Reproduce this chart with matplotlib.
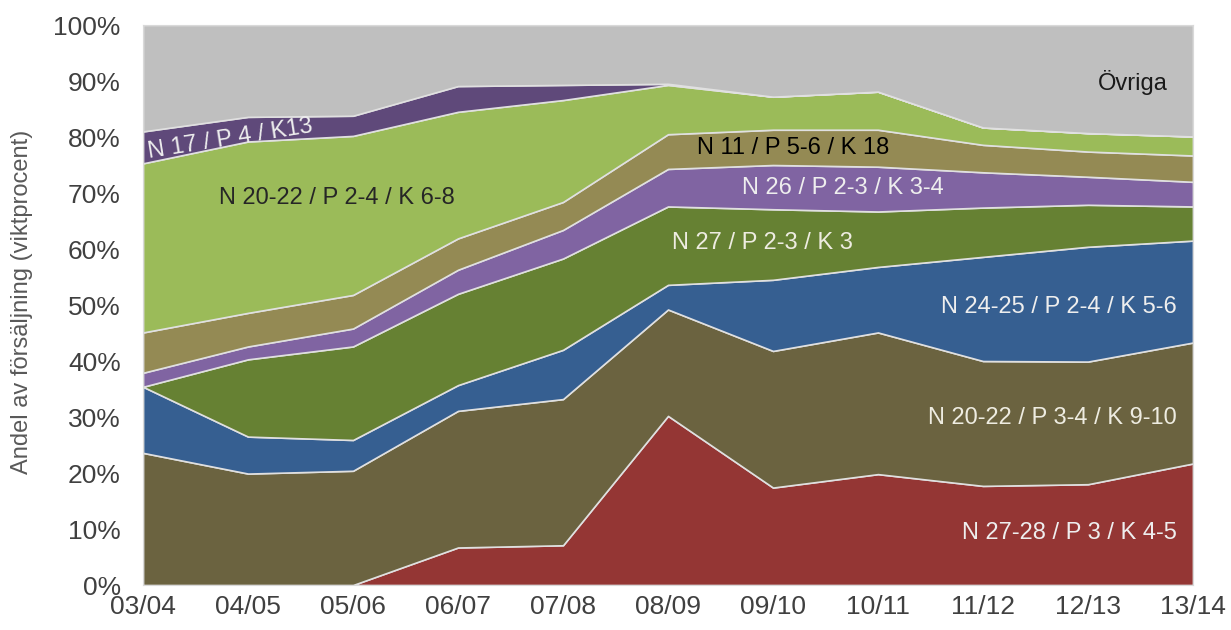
import matplotlib.pyplot as plt
import numpy as np

plt.rcParams['font.family'] = ['Liberation Sans', 'DejaVu Sans']

# Säsonger
seasons = ["03/04", "04/05", "05/06", "06/07", "07/08", "08/09",
           "09/10", "10/11", "11/12", "12/13", "13/14"]

# Andel av försäljning (viktprocent), nerifrån och upp
n27_28 = [0, 0, 0, 6.7, 7.1, 30.2, 17.4, 19.8, 17.7, 18.0, 21.7]
n20_22_p34 = [23.6, 19.9, 20.4, 24.4, 26.1, 19.0, 24.4, 25.3, 22.3, 21.9, 21.6]
n24_25 = [11.8, 6.6, 5.5, 4.6, 8.8, 4.4, 12.7, 11.7, 18.6, 20.5, 18.2]
n27 = [0, 13.8, 16.7, 16.3, 16.3, 14.0, 12.6, 9.9, 8.8, 7.5, 6.1]
n26 = [2.5, 2.3, 3.2, 4.3, 5.1, 6.7, 7.9, 8.0, 6.3, 5.0, 4.4]
n11 = [7.2, 6.0, 6.0, 5.6, 5.0, 6.2, 6.3, 6.6, 4.9, 4.5, 4.7]
n20_22_p24 = [30.2, 30.6, 28.4, 22.6, 18.2, 8.8, 5.9, 6.8, 3.1, 3.3, 3.4]
n17 = [5.7, 4.4, 3.6, 4.6, 2.7, 0.2, 0, 0, 0, 0, 0]
ovriga = [19.0, 16.4, 16.2, 10.9, 10.7, 10.5, 12.8, 11.9, 18.3, 19.3, 19.9]

series = [n27_28, n20_22_p34, n24_25, n27, n26, n11, n20_22_p24, n17, ovriga]
colors = ["#943634", "#6B6340", "#365F91", "#668133", "#8064A2",
          "#948A54", "#9BBB59", "#5F497A", "#BFBFBF"]

x = np.arange(len(seasons))

fig = plt.figure(figsize=(12.31, 6.30), dpi=100)
ax = fig.add_axes([0.1162, 0.0714, 0.8529, 0.8889])

ax.stackplot(x, *series, colors=colors, edgecolor="#E0E0E0", linewidth=1.2)

ax.set_xlim(0, len(seasons) - 1)
ax.set_ylim(0, 100)
ax.set_xticks(x)
ax.set_xticklabels(seasons)
ax.set_yticks(np.arange(0, 101, 10))
ax.set_yticklabels([f"{v}%" for v in range(0, 101, 10)])
ax.tick_params(length=0, labelsize=19, colors="#404040")
ax.tick_params(axis="y", pad=16)
ax.tick_params(axis="x", pad=7)
for sp in ax.spines.values():
    sp.set_color("#D9D9D9")
fig.text(22 / 1231, 1 - 302 / 630, "Andel av försäljning (viktprocent)",
         fontsize=17, color="#595959", rotation=90, ha="center", va="center")

# Etiketter i ytorna
light = "#EEEEEE"
fs = 17
ax.text(0.83, 79.6, "N 17 / P 4 / K13", color=light, fontsize=fs,
        rotation=9, ha="center", va="center")
ax.text(1.85, 69.1, "N 20-22 / P 2-4 / K 6-8", color="#262626", fontsize=fs,
        ha="center", va="center")
ax.text(6.19, 78.0, "N 11 / P 5-6 / K 18", color="#000000", fontsize=fs,
        ha="center", va="center")
ax.text(6.67, 70.9, "N 26 / P 2-3 / K 3-4", color=light, fontsize=fs,
        ha="center", va="center")
ax.text(5.9, 61.0, "N 27 / P 2-3 / K 3", color="#EEECE1", fontsize=fs,
        ha="center", va="center")
ax.text(9.85, 49.6, "N 24-25 / P 2-4 / K 5-6", color=light, fontsize=fs,
        ha="right", va="center")
ax.text(9.85, 29.8, "N 20-22 / P 3-4 / K 9-10", color="#EEECE1", fontsize=fs,
        ha="right", va="center")
ax.text(9.85, 9.3, "N 27-28 / P 3 / K 4-5", color=light, fontsize=fs,
        ha="right", va="center")
ax.text(9.43, 89.8, "Övriga", color="#1A1A1A", fontsize=fs,
        ha="center", va="center")

fig.savefig("out.png", dpi=100)
